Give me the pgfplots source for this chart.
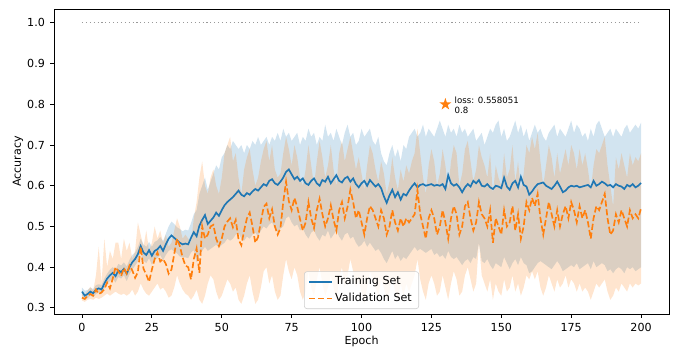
\documentclass[border=0pt]{standalone}
\usepackage{fontspec}
\setmainfont{DejaVu Sans}
\usepackage{pgfplots}
\pgfplotsset{compat=1.18}
\usepackage{pgfplotstable}
\definecolor{tabblue}{HTML}{1F77B4}
\definecolor{taborange}{HTML}{FF7F0E}
\pgfdeclareplotmark{fstar}{%
  \pgfpathmoveto{\pgfpoint{0pt}{4.6pt}}%
  \pgfpathlineto{\pgfpoint{-1.033pt}{1.421pt}}%
  \pgfpathlineto{\pgfpoint{-4.375pt}{1.421pt}}%
  \pgfpathlineto{\pgfpoint{-1.671pt}{-0.543pt}}%
  \pgfpathlineto{\pgfpoint{-2.704pt}{-3.721pt}}%
  \pgfpathlineto{\pgfpoint{0pt}{-1.757pt}}%
  \pgfpathlineto{\pgfpoint{2.704pt}{-3.721pt}}%
  \pgfpathlineto{\pgfpoint{1.671pt}{-0.543pt}}%
  \pgfpathlineto{\pgfpoint{4.375pt}{1.421pt}}%
  \pgfpathlineto{\pgfpoint{1.033pt}{1.421pt}}%
  \pgfpathclose
  \pgfusepathqfill
}
\pgfplotstableread{
ep tm tu tl vm vu vl
0 0.340 0.350 0.330 0.325 0.335 0.318
1 0.330 0.342 0.320 0.322 0.332 0.315
2 0.334 0.344 0.324 0.330 0.342 0.320
3 0.340 0.350 0.330 0.334 0.352 0.322
4 0.336 0.346 0.326 0.330 0.342 0.320
5 0.345 0.356 0.334 0.345 0.380 0.325
6 0.348 0.358 0.338 0.334 0.450 0.322
7 0.345 0.356 0.334 0.338 0.360 0.325
8 0.360 0.372 0.348 0.346 0.470 0.330
9 0.372 0.384 0.360 0.362 0.400 0.335
10 0.380 0.394 0.366 0.348 0.440 0.330
11 0.386 0.400 0.372 0.372 0.420 0.335
12 0.378 0.394 0.362 0.400 0.460 0.340
13 0.392 0.408 0.376 0.390 0.460 0.335
14 0.388 0.404 0.372 0.378 0.420 0.332
15 0.396 0.412 0.380 0.398 0.470 0.335
16 0.384 0.402 0.366 0.384 0.440 0.330
17 0.400 0.418 0.382 0.404 0.460 0.335
18 0.412 0.430 0.394 0.392 0.420 0.345
19 0.420 0.436 0.404 0.374 0.440 0.330
20 0.432 0.450 0.414 0.388 0.510 0.340
21 0.452 0.470 0.434 0.450 0.480 0.360
22 0.436 0.456 0.416 0.396 0.450 0.345
23 0.430 0.450 0.410 0.382 0.490 0.335
24 0.442 0.462 0.422 0.364 0.440 0.330
25 0.428 0.450 0.406 0.394 0.460 0.340
26 0.440 0.462 0.418 0.420 0.500 0.350
27 0.444 0.466 0.422 0.436 0.470 0.360
28 0.452 0.474 0.430 0.414 0.490 0.345
29 0.440 0.464 0.416 0.420 0.460 0.350
30 0.456 0.482 0.430 0.408 0.480 0.340
31 0.470 0.500 0.440 0.384 0.450 0.325
32 0.478 0.512 0.444 0.394 0.460 0.330
33 0.472 0.506 0.438 0.432 0.490 0.350
34 0.466 0.498 0.434 0.470 0.520 0.380
35 0.460 0.494 0.426 0.452 0.500 0.360
36 0.456 0.488 0.424 0.424 0.470 0.345
37 0.458 0.492 0.424 0.404 0.480 0.335
38 0.456 0.490 0.422 0.400 0.470 0.330
39 0.472 0.508 0.436 0.370 0.460 0.320
40 0.486 0.530 0.442 0.420 0.520 0.330
41 0.476 0.540 0.412 0.446 0.560 0.345
42 0.502 0.580 0.430 0.386 0.620 0.320
43 0.516 0.600 0.440 0.500 0.660 0.310
44 0.528 0.620 0.450 0.470 0.600 0.330
45 0.506 0.590 0.440 0.480 0.580 0.360
46 0.514 0.610 0.445 0.500 0.620 0.380
47 0.522 0.630 0.450 0.504 0.640 0.370
48 0.534 0.650 0.455 0.470 0.600 0.340
49 0.526 0.640 0.448 0.452 0.580 0.320
50 0.540 0.670 0.455 0.470 0.620 0.330
51 0.552 0.680 0.460 0.500 0.680 0.350
52 0.560 0.700 0.470 0.512 0.700 0.370
53 0.566 0.690 0.465 0.520 0.720 0.360
54 0.572 0.710 0.470 0.498 0.660 0.340
55 0.580 0.700 0.480 0.516 0.680 0.350
56 0.588 0.690 0.485 0.468 0.620 0.320
57 0.578 0.700 0.470 0.454 0.580 0.310
58 0.574 0.680 0.465 0.490 0.640 0.330
59 0.582 0.700 0.475 0.520 0.670 0.360
60 0.578 0.690 0.470 0.534 0.690 0.380
61 0.586 0.710 0.480 0.500 0.640 0.340
62 0.592 0.700 0.485 0.460 0.600 0.310
63 0.588 0.720 0.475 0.474 0.620 0.320
64 0.596 0.700 0.490 0.512 0.660 0.350
65 0.604 0.710 0.500 0.548 0.690 0.390
66 0.600 0.720 0.495 0.556 0.710 0.400
67 0.612 0.700 0.505 0.520 0.660 0.360
68 0.616 0.720 0.510 0.542 0.700 0.380
69 0.606 0.710 0.495 0.500 0.640 0.340
70 0.602 0.730 0.485 0.480 0.620 0.320
71 0.610 0.710 0.495 0.496 0.630 0.330
72 0.620 0.740 0.500 0.560 0.680 0.380
73 0.634 0.720 0.520 0.610 0.720 0.420
74 0.640 0.730 0.525 0.562 0.690 0.390
75 0.628 0.710 0.510 0.540 0.650 0.370
76 0.616 0.720 0.500 0.570 0.700 0.400
77 0.622 0.730 0.505 0.548 0.670 0.380
78 0.612 0.700 0.490 0.518 0.620 0.340
79 0.618 0.720 0.495 0.490 0.600 0.320
80 0.606 0.710 0.480 0.510 0.640 0.340
81 0.602 0.740 0.470 0.560 0.700 0.390
82 0.612 0.720 0.485 0.520 0.650 0.350
83 0.618 0.730 0.490 0.496 0.600 0.330
84 0.606 0.700 0.475 0.540 0.660 0.370
85 0.600 0.720 0.465 0.568 0.710 0.400
86 0.614 0.710 0.480 0.530 0.670 0.360
87 0.610 0.750 0.475 0.500 0.620 0.330
88 0.622 0.720 0.490 0.520 0.650 0.350
89 0.606 0.730 0.470 0.552 0.700 0.380
90 0.616 0.710 0.480 0.516 0.640 0.350
91 0.626 0.740 0.490 0.490 0.600 0.320
92 0.612 0.720 0.475 0.540 0.680 0.370
93 0.608 0.700 0.465 0.560 0.710 0.400
94 0.618 0.730 0.480 0.520 0.660 0.350
95 0.622 0.750 0.485 0.548 0.690 0.380
96 0.610 0.720 0.470 0.590 0.720 0.420
97 0.618 0.730 0.475 0.560 0.680 0.390
98 0.604 0.700 0.460 0.520 0.640 0.350
99 0.596 0.710 0.450 0.540 0.670 0.370
100 0.606 0.740 0.455 0.510 0.630 0.340
101 0.612 0.720 0.465 0.480 0.590 0.310
102 0.600 0.730 0.450 0.520 0.650 0.350
103 0.614 0.740 0.460 0.550 0.700 0.390
104 0.606 0.710 0.450 0.540 0.680 0.370
105 0.598 0.700 0.440 0.520 0.640 0.350
106 0.604 0.720 0.445 0.500 0.610 0.330
107 0.594 0.680 0.435 0.540 0.660 0.370
108 0.574 0.660 0.420 0.520 0.630 0.350
109 0.558 0.650 0.410 0.480 0.580 0.320
110 0.576 0.680 0.425 0.500 0.610 0.340
111 0.590 0.700 0.440 0.540 0.670 0.380
112 0.572 0.670 0.420 0.510 0.620 0.340
113 0.584 0.690 0.430 0.490 0.590 0.320
114 0.566 0.660 0.415 0.520 0.640 0.360
115 0.580 0.700 0.425 0.500 0.610 0.330
116 0.576 0.690 0.420 0.520 0.650 0.360
117 0.588 0.720 0.430 0.510 0.630 0.340
118 0.598 0.730 0.440 0.520 0.660 0.360
119 0.606 0.740 0.450 0.530 0.680 0.380
120 0.596 0.720 0.440 0.590 0.740 0.420
121 0.602 0.730 0.445 0.530 0.680 0.370
122 0.604 0.750 0.440 0.500 0.620 0.340
123 0.600 0.720 0.435 0.470 0.580 0.320
124 0.602 0.740 0.440 0.520 0.650 0.360
125 0.604 0.730 0.445 0.540 0.690 0.380
126 0.600 0.720 0.430 0.520 0.660 0.360
127 0.602 0.740 0.435 0.480 0.600 0.330
128 0.600 0.760 0.425 0.500 0.630 0.340
129 0.604 0.740 0.430 0.540 0.690 0.380
130 0.592 0.720 0.420 0.510 0.650 0.350
131 0.626 0.750 0.440 0.470 0.590 0.320
132 0.606 0.730 0.425 0.520 0.660 0.360
133 0.600 0.740 0.420 0.550 0.700 0.390
134 0.604 0.720 0.425 0.530 0.680 0.370
135 0.596 0.750 0.415 0.480 0.600 0.330
136 0.584 0.730 0.405 0.500 0.630 0.340
137 0.596 0.740 0.415 0.550 0.690 0.380
138 0.604 0.720 0.420 0.560 0.710 0.400
139 0.598 0.730 0.410 0.520 0.660 0.370
140 0.612 0.740 0.425 0.490 0.610 0.340
141 0.606 0.710 0.420 0.510 0.640 0.360
142 0.614 0.720 0.460 0.560 0.700 0.460
143 0.600 0.730 0.415 0.530 0.670 0.380
144 0.598 0.700 0.410 0.520 0.650 0.360
145 0.604 0.720 0.420 0.500 0.620 0.340
146 0.596 0.740 0.405 0.540 0.680 0.370
147 0.592 0.730 0.395 0.460 0.580 0.320
148 0.600 0.750 0.410 0.520 0.650 0.360
149 0.598 0.760 0.405 0.500 0.620 0.340
150 0.594 0.720 0.400 0.480 0.600 0.330
151 0.620 0.740 0.425 0.540 0.680 0.370
152 0.598 0.710 0.410 0.500 0.620 0.340
153 0.590 0.720 0.395 0.510 0.640 0.350
154 0.606 0.740 0.410 0.550 0.700 0.380
155 0.612 0.760 0.420 0.490 0.610 0.340
156 0.596 0.730 0.405 0.530 0.660 0.360
157 0.622 0.750 0.425 0.470 0.590 0.330
158 0.602 0.720 0.410 0.500 0.630 0.350
159 0.598 0.740 0.405 0.560 0.700 0.380
160 0.578 0.710 0.385 0.540 0.680 0.370
161 0.586 0.730 0.390 0.570 0.720 0.390
162 0.596 0.750 0.400 0.550 0.690 0.370
163 0.604 0.730 0.410 0.580 0.730 0.390
164 0.606 0.740 0.415 0.520 0.660 0.350
165 0.608 0.720 0.410 0.480 0.600 0.330
166 0.600 0.710 0.405 0.520 0.650 0.350
167 0.596 0.730 0.400 0.560 0.700 0.380
168 0.592 0.740 0.395 0.530 0.670 0.360
169 0.600 0.750 0.405 0.500 0.620 0.340
170 0.610 0.720 0.415 0.540 0.680 0.370
171 0.598 0.740 0.405 0.500 0.630 0.350
172 0.584 0.730 0.390 0.530 0.660 0.360
173 0.588 0.720 0.395 0.550 0.690 0.380
174 0.596 0.740 0.400 0.520 0.650 0.350
175 0.600 0.760 0.405 0.560 0.700 0.370
176 0.598 0.730 0.400 0.540 0.680 0.360
177 0.600 0.750 0.410 0.510 0.640 0.340
178 0.596 0.740 0.395 0.550 0.690 0.360
179 0.598 0.720 0.400 0.520 0.650 0.340
180 0.600 0.730 0.405 0.540 0.680 0.350
181 0.602 0.710 0.410 0.510 0.640 0.340
182 0.596 0.740 0.395 0.470 0.590 0.320
183 0.612 0.720 0.415 0.520 0.650 0.340
184 0.600 0.750 0.400 0.550 0.690 0.360
185 0.604 0.760 0.405 0.540 0.680 0.350
186 0.610 0.740 0.410 0.560 0.700 0.360
187 0.606 0.720 0.405 0.580 0.720 0.370
188 0.600 0.730 0.390 0.520 0.650 0.340
189 0.602 0.740 0.395 0.480 0.600 0.320
190 0.596 0.720 0.385 0.490 0.550 0.330
191 0.604 0.740 0.395 0.530 0.670 0.350
192 0.600 0.730 0.400 0.510 0.640 0.340
193 0.598 0.720 0.395 0.540 0.680 0.360
194 0.592 0.740 0.385 0.520 0.650 0.350
195 0.602 0.750 0.400 0.500 0.620 0.340
196 0.598 0.730 0.395 0.540 0.680 0.360
197 0.604 0.740 0.400 0.520 0.650 0.350
198 0.596 0.750 0.390 0.530 0.670 0.360
199 0.600 0.740 0.395 0.520 0.660 0.355
200 0.607 0.755 0.400 0.545 0.680 0.360
}\datatable

\pgfplotsset{
  frame/.style={at={(38.9pt,23.76pt)}, anchor=south west,
    scale only axis, width=442.8pt, height=219.6pt,
    xmin=-10, xmax=210, ymin=0.285, ymax=1.034},
}

\begin{document}
\begin{tikzpicture}
\path[use as bounding box] (0,0) rectangle (484.56pt,249.84pt);
% training band
\begin{axis}[frame, hide axis, stack plots=y]
\addplot[draw=none, forget plot] table[x=ep,y=tl]{\datatable};
\addplot[fill=tabblue, fill opacity=0.2, draw=none, forget plot] table[x=ep,y expr=\thisrow{tu}-\thisrow{tl}]{\datatable} \closedcycle;
\end{axis}
% validation band
\begin{axis}[frame, hide axis, stack plots=y]
\addplot[draw=none, forget plot] table[x=ep,y=vl]{\datatable};
\addplot[fill=taborange, fill opacity=0.2, draw=none, forget plot] table[x=ep,y expr=\thisrow{vu}-\thisrow{vl}]{\datatable} \closedcycle;
\end{axis}
\begin{axis}[frame,
  xtick={0,25,50,75,100,125,150,175,200},
  ytick={0.3,0.4,0.5,0.6,0.7,0.8,0.9,1.0},
  yticklabel style={/pgf/number format/fixed,/pgf/number format/fixed zerofill,/pgf/number format/precision=1},
  /pgf/number format/assume math mode=true,
  tick align=outside, major tick length=2.8pt,
  tick style={black, line width=0.64pt},
  axis line style={line width=0.64pt},
  xtick pos=bottom, ytick pos=left,
  tick label style={font=\fontsize{8}{9.6}\selectfont},
  xticklabel style={inner sep=0pt, anchor=north, yshift=-3.6pt},
  yticklabel style={inner sep=0pt, anchor=east, xshift=-3.6pt},
  xlabel={Epoch}, ylabel={Accuracy},
  every axis x label/.style={at={(axis description cs:0.5,0)}, anchor=north, yshift=-15.8pt, inner sep=0pt, font=\fontsize{8}{9.6}\selectfont},
  every axis y label/.style={at={(axis description cs:-0.0585,0.5)}, anchor=center, rotate=90, inner sep=0pt, font=\fontsize{8}{9.6}\selectfont},
  legend style={at={(0.5,0.0164)}, anchor=south, draw=black!20, fill=white, fill opacity=0.8, text opacity=1, rounded corners=2pt, font=\fontsize{8}{9.6}\selectfont, inner xsep=3pt, inner ysep=1.5pt, row sep=0.6pt},
  legend cell align=left,
]
\addplot[tabblue, line width=1.2pt, mark=none, solid, forget plot] table[x=ep,y=tm]{\datatable};
\addplot[taborange, line width=1.2pt, mark=none, dash pattern=on 4.44pt off 1.92pt, forget plot] table[x=ep,y=vm]{\datatable};
\addplot[taborange, only marks, mark=fstar, forget plot] coordinates {(130,0.8)};
\addlegendimage{legend image code/.code={\draw[tabblue, solid, line width=1.2pt] (0pt,0pt) -- (16pt,0pt);}}
\addlegendentry{Training Set}
\addlegendimage{legend image code/.code={\draw[taborange, line width=1.2pt, dash pattern=on 4.44pt off 1.92pt] (0pt,0pt) -- (16pt,0pt);}}
\addlegendentry{Validation Set}
\addplot[gray!80, line width=0.8pt, dash pattern=on 0.8pt off 2pt, forget plot] coordinates {(0,1) (200,1)};
\node[anchor=west, align=left, inner sep=0pt, font=\fontsize{6.2}{7.6}\selectfont] at (axis cs:133.2,0.797) {loss: 0.558051\\0.8};
\end{axis}
\end{tikzpicture}
\end{document}
